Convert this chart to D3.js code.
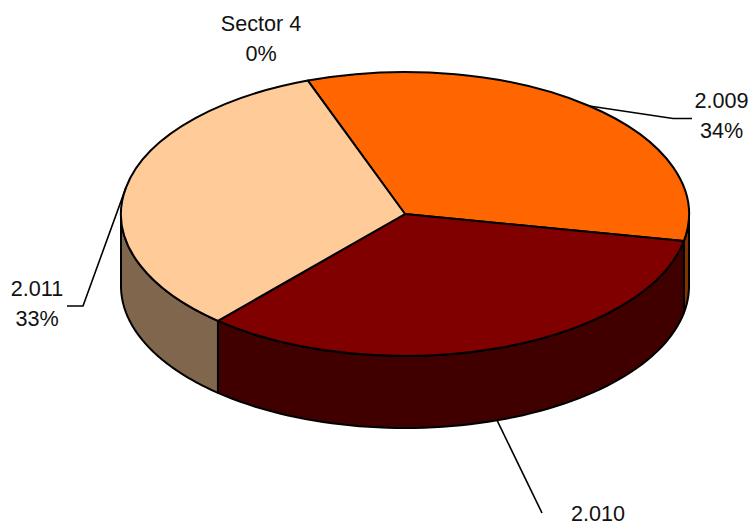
<!DOCTYPE html>
<html><head><meta charset="utf-8">
<script src="https://cdn.jsdelivr.net/npm/d3@7"></script>
<style>html,body{margin:0;padding:0;background:#fff;overflow:hidden}svg{display:block}text{font-family:"Liberation Sans",Arial,sans-serif;font-size:21.6px;fill:#111;text-anchor:middle}</style>
</head><body>
<svg id="c" width="753" height="523"></svg>
<script>
const categories = ["2.009","2.010","2.011","Sector 4"];
const values = [33.6,33.4,33.0,0];
const topColors = ["#FF6600","#800000","#FFCC99","#FFFFFF"];
const sideColors = ["#803300","#400000","#80664D","#808080"];

const W=753,H=523,cx=405,cy=214,rx=284,ry=142,depth=72;
const startDeg=-20;
const svg=d3.select("#c");
const pie=d3.pie().sort(null).value(d=>d.value)
  .startAngle(startDeg*Math.PI/180).endAngle((startDeg+360)*Math.PI/180);
const arcs=pie(categories.map((c,i)=>({name:c,value:values[i],top:topColors[i],side:sideColors[i]})));
const total=d3.sum(values);
const px=a=>cx+rx*Math.sin(a), py=a=>cy-ry*Math.cos(a);

// side walls: only the front half of the ellipse (90deg..270deg) is visible
const walls=svg.append("g");
const line=d3.line();
arcs.filter(d=>d.value>0).forEach(d=>{
  const ranges=[[d.startAngle,d.endAngle],[d.startAngle+2*Math.PI,d.endAngle+2*Math.PI],[d.startAngle-2*Math.PI,d.endAngle-2*Math.PI]];
  ranges.forEach(([s,e])=>{
    const a0=Math.max(s,Math.PI/2),a1=Math.min(e,3*Math.PI/2);
    if(a1<=a0) return;
    const samples=d3.range(0,65).map(i=>a0+(a1-a0)*i/64);
    const upper=samples.map(a=>[px(a),py(a)]);
    const lower=samples.slice().reverse().map(a=>[px(a),py(a)+depth]);
    walls.append("path").attr("d",line(upper.concat(lower))+"Z")
      .attr("fill",d.data.side).attr("stroke","#000").attr("stroke-width",2).attr("stroke-linejoin","round");
  });
});

// top face
const arc=d3.arc().innerRadius(0).outerRadius(rx);
svg.append("g").attr("transform",`translate(${cx},${cy}) scale(1,${ry/rx})`)
  .selectAll("path").data(arcs.filter(d=>d.value>0)).join("path")
  .attr("d",arc).attr("fill",d=>d.data.top)
  .attr("stroke","#000").attr("stroke-width",2).attr("stroke-linejoin","round")
  .attr("vector-effect","non-scaling-stroke");

// labels and leader lines
const layout={
 "2.009":{x:721.5,y:108,elbow:[673,118.5],end:[692,118.5],drop:0},
 "2.010":{x:598,y:521,elbow:[542,513],end:[542,513],drop:depth},
 "2.011":{x:37,y:296,elbow:[83,306],end:[67,306],drop:0},
 "Sector 4":{x:261,y:31}
};
arcs.forEach(d=>{
  const l=layout[d.data.name];
  const mid=(d.startAngle+d.endAngle)/2;
  if(l.elbow){
    svg.append("path").attr("d",line([[px(mid),py(mid)+l.drop],l.elbow,l.end]))
      .attr("fill","none").attr("stroke","#000").attr("stroke-width",1.6);
  }
  svg.append("text").attr("x",l.x).attr("y",l.y).text(d.data.name);
  // the percentage of 2.010 falls below the bottom edge of the picture
  if(l.y+30<H) svg.append("text").attr("x",l.x).attr("y",l.y+30).text(Math.round(d.value/total*100)+"%");
});
</script>
</body></html>
